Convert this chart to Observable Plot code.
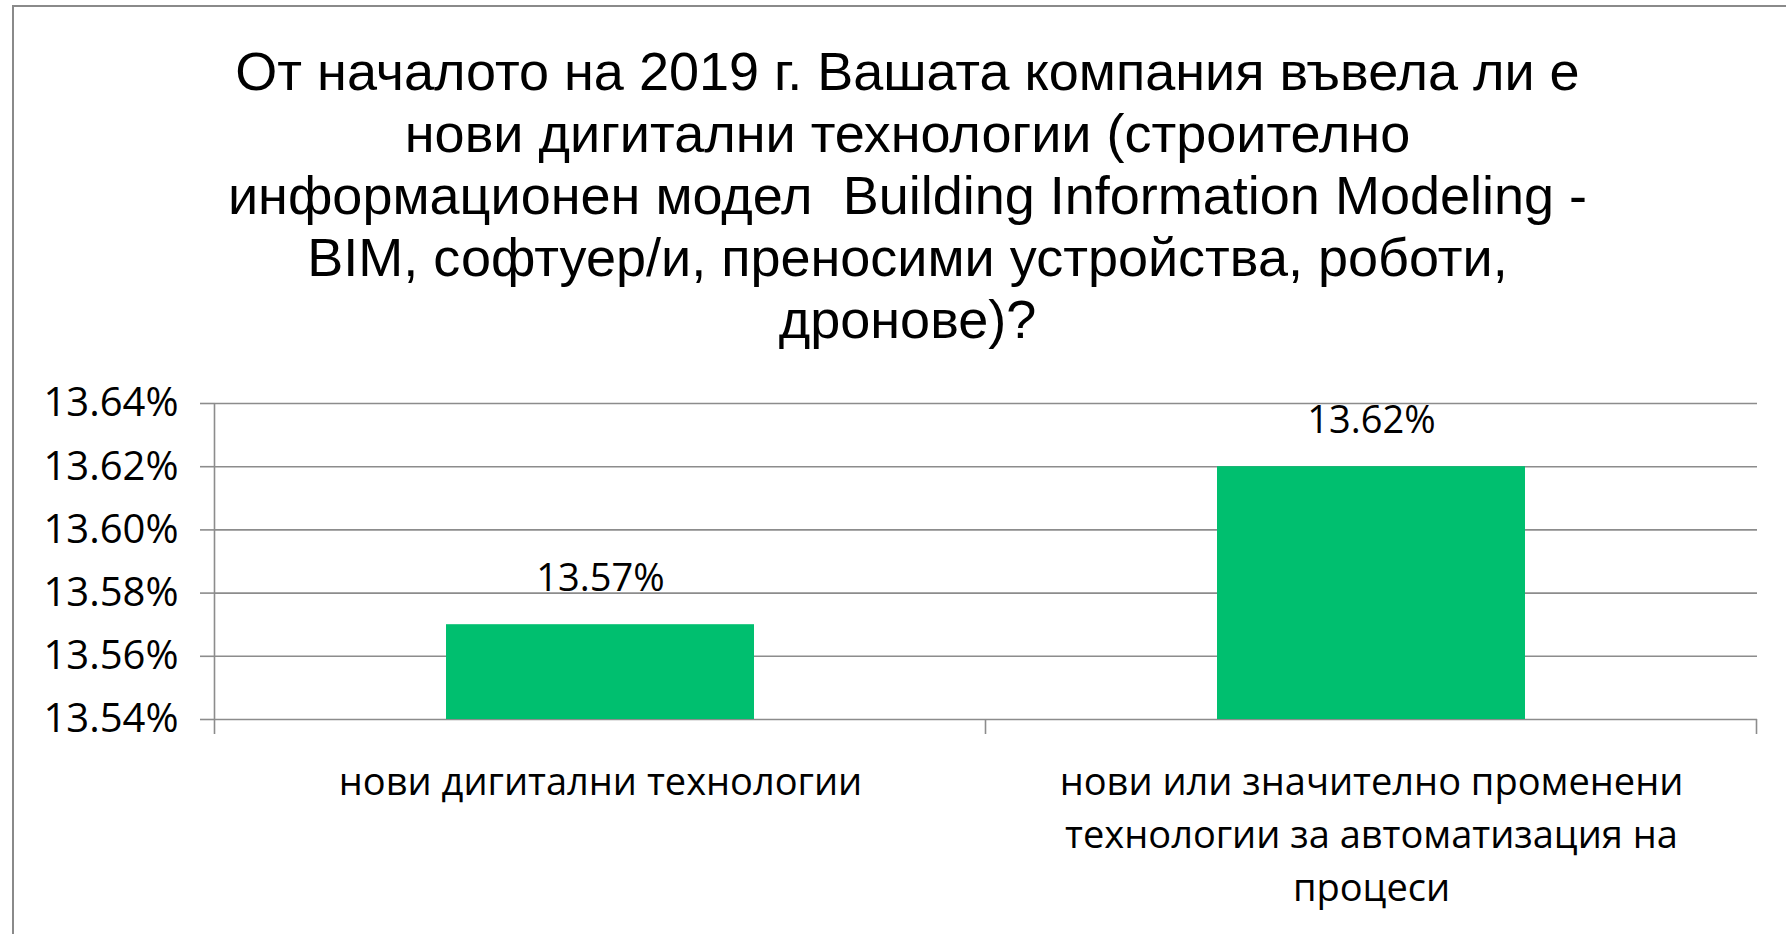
<!DOCTYPE html>
<html><head><meta charset="utf-8">
<script src="https://cdn.jsdelivr.net/npm/d3@7"></script>
<script src="https://cdn.jsdelivr.net/npm/@observablehq/plot@0.6"></script>
<style>
html,body{margin:0;padding:0;background:#fff;width:1786px;height:934px;overflow:hidden;position:relative;}
#frame{position:absolute;left:12px;top:5px;width:1800px;height:960px;border-left:2px solid #8a8a8a;border-top:2px solid #8a8a8a;}
#title{position:absolute;left:0;width:1815px;top:40px;text-align:center;font-family:"Liberation Sans",Arial,sans-serif;font-size:54px;line-height:62px;color:#000;white-space:nowrap;}
#chart{position:absolute;left:0;top:340px;}
</style></head><body>
<div id="frame"></div>
<div id="title"></div>
<div id="chart"></div>
<script>
const titleLines = [
  "От началото на 2019 г. Вашата компания въвела ли е",
  "нови дигитални технологии (строително",
  "информационен модел  Building Information Modeling -",
  "BIM, софтуер/и, преносими устройства, роботи,",
  "дронове)?"
];
const categories = [
  "нови дигитални технологии",
  "нови или значително променени технологии за автоматизация на процеси"
];
const categoryLabels = [
  "нови дигитални технологии",
  "нови или значително променени\nтехнологии за автоматизация на\nпроцеси"
];
const values = [13.57, 13.62];
const yTicks = [13.54, 13.56, 13.58, 13.60, 13.62, 13.64];

const titleEl = document.getElementById("title");
titleLines.forEach(t => { const d = document.createElement("div"); d.textContent = t; d.style.whiteSpace = "pre"; titleEl.appendChild(d); });

const data = categories.map((c, i) => ({category: c, label: categoryLabels[i], value: values[i]}));
const fmt = v => v.toFixed(2) + "%";
const gray = "#8c8c8c";
const fs = 38;

const plot = Plot.plot({
  width: 1786, height: 594,
  marginTop: 63, marginBottom: 215, marginLeft: 215, marginRight: 29,
  style: {fontFamily: "'Open Sans', sans-serif", fontSize: fs + "px", color: "#000", background: "transparent", overflow: "visible"},
  x: {domain: categories, paddingInner: 0.6, paddingOuter: 0.3, axis: null},
  y: {domain: [yTicks[0], yTicks[yTicks.length - 1]], axis: null},
  marks: [
    Plot.ruleY(yTicks, {stroke: gray, strokeWidth: 1.6}),
    Plot.axisY(yTicks, {label: null, tickSize: 15, tickPadding: 22, tickFormat: fmt, stroke: gray, strokeWidth: 1.6, strokeOpacity: 1, fontSize: 40, fill: "#000"}),
    Plot.barY(data, {x: "category", y1: yTicks[0], y2: "value", fill: "#00bf6f"}),
    Plot.text(data, {x: "category", y: "value", text: d => fmt(d.value), dy: -46, fontSize: fs, fill: "#000"}),
    Plot.text(data, {x: "category", text: "label", frameAnchor: "bottom", lineAnchor: "top", dy: 38, fontSize: fs, lineHeight: 53 / fs, fill: "#000"})
  ]
});
document.getElementById("chart").appendChild(plot);

// axis line and category boundary ticks, placed with the plot's own scales
const sx = plot.scale("x"), sy = plot.scale("y");
const svg = d3.select(plot.tagName.toLowerCase() === "svg" ? plot : plot.querySelector("svg"));
const half = (sx.step - sx.bandwidth) / 2;
const bounds = categories.map(c => sx.apply(c) - half);
bounds.push(sx.apply(categories[categories.length - 1]) + sx.bandwidth + half);
const y0 = sy.apply(yTicks[0]), yTop = sy.apply(yTicks[yTicks.length - 1]);
const g = svg.append("g").attr("stroke", gray).attr("stroke-width", 1.6);
bounds.forEach((bx, i) => {
  g.append("line").attr("x1", bx).attr("x2", bx).attr("y1", i === 0 ? yTop : y0).attr("y2", y0 + 15);
});
</script>
</body></html>
